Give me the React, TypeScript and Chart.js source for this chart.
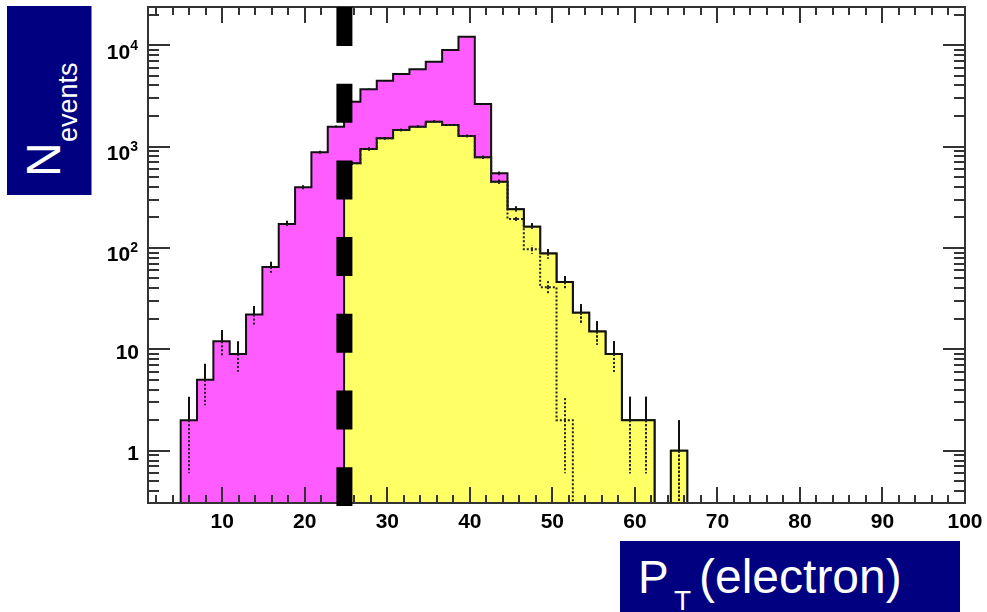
import React, { useEffect, useRef } from 'react';
import { Chart, registerables } from 'chart.js';

Chart.register(...registerables);

// ---- Data ----
const binEdges = [1, 2.98, 4.96, 6.94, 8.92, 10.9, 12.88, 14.86, 16.84, 18.82, 20.8, 22.78, 24.76, 26.74, 28.72, 30.7, 32.68, 34.66, 36.64, 38.62, 40.6, 42.58, 44.56, 46.54, 48.52, 50.5, 52.48, 54.46, 56.44, 58.42, 60.4, 62.38, 64.36, 66.34, 68.32];

// all electrons (magenta), bins 0..33
const totalCounts = [0, 0, 2, 5, 12, 9, 22, 65, 172, 396, 877, 1570, 2770, 3670, 4450, 5190, 5770, 6860, 8950, 12100, 2630, 544, 240, 162, 88, 46, 23, 15, 9, 2, 2, 0, 1, 0];
const totalErrors = [0, 0, 1.4, 2.2, 3.5, 3, 4.7, 8.1, 13, 20, 30, 40, 53, 61, 67, 72, 76, 83, 95, 110, 51, 23, 15.5, 12.7, 9.4, 6.8, 4.8, 3.9, 3, 1.4, 1.4, 0, 1, 0];

// after the PT cut (yellow), bins 12..33
const CUT_FIRST_BIN = 12;
const yellowCounts = [683, 945, 1205, 1455, 1570, 1760, 1630, 1270, 782, 450, 240, 162, 88, 46, 23, 15, 9, 2, 2, 0, 1, 0];
const yellowErrors = [26, 31, 35, 38, 40, 42, 40, 36, 28, 21, 15.5, 12.7, 9.4, 6.8, 4.8, 3.9, 3, 1.4, 1.4, 0, 1, 0];

// dotted histogram, bins 12..33
const dottedCounts = [683, 945, 1205, 1455, 1570, 1760, 1630, 1270, 782, 450, 193, 97, 41, 2, 0, 0, 0, 0, 0, 0, 0, 0];
const dottedErrors = [26, 31, 35, 38, 40, 42, 40, 36, 28, 21, 14, 9.8, 6.4, 1.4, 0, 0, 0, 0, 0, 0, 0, 0];

const CUT_VALUE = 24.8;

const X_MIN = 1;
const X_MAX = 100;
const Y_MIN = 0.305;
const Y_MAX = 23770;

const xMajorTicks = [10, 20, 30, 40, 50, 60, 70, 80, 90, 100];
const xTickLabels = ['10', '20', '30', '40', '50', '60', '70', '80', '90', '100'];
const xMinorTicks = [2, 4, 6, 8, 12, 14, 16, 18, 22, 24, 26, 28, 32, 34, 36, 38, 42, 44, 46, 48, 52, 54, 56, 58, 62, 64, 66, 68, 72, 74, 76, 78, 82, 84, 86, 88, 92, 94, 96, 98];

const yMajorTicks = [1, 10, 100, 1000, 10000];
const yLabelBase = ['1', '10', '10', '10', '10'];
const yLabelExp = ['', '', '2', '3', '4'];
const yMinorTicks = [0.4, 0.5, 0.6, 0.7, 0.8, 0.9, 2, 3, 4, 5, 6, 7, 8, 9, 20, 30, 40, 50, 60, 70, 80, 90, 200, 300, 400, 500, 600, 700, 800, 900, 2000, 3000, 4000, 5000, 6000, 7000, 8000, 9000, 20000];

const FONT = "'Liberation Sans', Arial, Helvetica, sans-serif";

function shown(v: number) {
  return v > 0 ? v : Y_MIN;
}

function stepPoints(counts: number[], firstBin: number, startFromBottom: boolean) {
  const pts: { x: number; y: number }[] = [];
  if (startFromBottom) pts.push({ x: binEdges[firstBin], y: Y_MIN });
  counts.forEach((c, k) => pts.push({ x: binEdges[firstBin + k], y: shown(c) }));
  pts.push({ x: binEdges[firstBin + counts.length], y: shown(counts[counts.length - 1]) });
  return pts;
}

const decorPlugin = {
  id: 'histDecor',
  afterDatasetsDraw(chart: any) {
    const { ctx, chartArea: a, scales } = chart;
    const xs = scales.x;
    const ys = scales.y;
    const yp = (v: number) => ys.getPixelForValue(Math.max(v, Y_MIN));

    // error bars
    ctx.save();
    ctx.beginPath();
    ctx.rect(a.left, a.top, a.right - a.left, a.bottom - a.top);
    ctx.clip();
    ctx.lineWidth = 2;
    const drawErr = (counts: number[], errs: number[], firstBin: number, solidUp: boolean) => {
      counts.forEach((v, k) => {
        const e = errs[k];
        if (!(v > 0) || !(e > 0)) return;
        const i = firstBin + k;
        const cx = Math.round(xs.getPixelForValue((binEdges[i] + binEdges[i + 1]) / 2));
        ctx.strokeStyle = solidUp ? '#111' : '#222';
        ctx.setLineDash(solidUp ? [] : [2, 2]);
        ctx.beginPath();
        ctx.moveTo(cx, yp(v));
        ctx.lineTo(cx, yp(v + e));
        ctx.stroke();
        ctx.strokeStyle = '#222';
        ctx.setLineDash([2, 2]);
        ctx.beginPath();
        ctx.moveTo(cx, yp(v));
        ctx.lineTo(cx, v - e > 0 ? yp(v - e) : a.bottom);
        ctx.stroke();
      });
    };
    drawErr(dottedCounts, dottedErrors, CUT_FIRST_BIN, false);
    drawErr(totalCounts, totalErrors, 0, true);
    drawErr(yellowCounts, yellowErrors, CUT_FIRST_BIN, true);
    ctx.restore();

    // frame and ticks
    ctx.save();
    ctx.strokeStyle = '#333';
    ctx.lineWidth = 2;
    ctx.setLineDash([]);
    ctx.strokeRect(a.left, a.top, a.right - a.left, a.bottom - a.top);
    ctx.beginPath();
    xMajorTicks.forEach((v) => {
      const px = Math.round(xs.getPixelForValue(v));
      ctx.moveTo(px, a.bottom);
      ctx.lineTo(px, a.bottom - 16);
      ctx.moveTo(px, a.top);
      ctx.lineTo(px, a.top + 16);
    });
    xMinorTicks.forEach((v) => {
      const px = Math.round(xs.getPixelForValue(v));
      ctx.moveTo(px, a.bottom);
      ctx.lineTo(px, a.bottom - 8);
      ctx.moveTo(px, a.top);
      ctx.lineTo(px, a.top + 8);
    });
    yMajorTicks.forEach((v) => {
      const py = Math.round(ys.getPixelForValue(v));
      ctx.moveTo(a.left, py);
      ctx.lineTo(a.left + 22, py);
      ctx.moveTo(a.right, py);
      ctx.lineTo(a.right - 22, py);
    });
    yMinorTicks.forEach((v) => {
      const py = Math.round(ys.getPixelForValue(v));
      ctx.moveTo(a.left, py);
      ctx.lineTo(a.left + 11, py);
      ctx.moveTo(a.right, py);
      ctx.lineTo(a.right - 11, py);
    });
    ctx.stroke();

    // tick labels
    ctx.fillStyle = '#000';
    ctx.font = `bold 21px ${FONT}`;
    ctx.textAlign = 'center';
    ctx.textBaseline = 'alphabetic';
    xMajorTicks.forEach((v, k) => {
      ctx.fillText(xTickLabels[k], xs.getPixelForValue(v), a.bottom + 25);
    });
    yMajorTicks.forEach((v, k) => {
      const py = ys.getPixelForValue(v);
      const exp = yLabelExp[k];
      if (!exp) {
        ctx.font = `bold 21px ${FONT}`;
        ctx.textAlign = 'right';
        ctx.fillText(yLabelBase[k], a.left - 9, py + 9.5);
      } else {
        ctx.font = `bold 14px ${FONT}`;
        ctx.textAlign = 'right';
        const ew = ctx.measureText(exp).width;
        const right = a.left - 10;
        ctx.fillText(exp, right, py + 4.5);
        ctx.font = `bold 21px ${FONT}`;
        ctx.fillText(yLabelBase[k], right - ew, py + 13.5);
      }
    });
    ctx.restore();

    // cut line
    ctx.save();
    ctx.strokeStyle = '#000';
    ctx.lineWidth = 16;
    ctx.lineCap = 'butt';
    ctx.setLineDash([39, 37.7]);
    const cx = xs.getPixelForValue(CUT_VALUE);
    ctx.beginPath();
    ctx.moveTo(cx, a.top);
    ctx.lineTo(cx, a.bottom + 3);
    ctx.stroke();
    ctx.restore();
  },
};

export default function App() {
  const ref = useRef<HTMLCanvasElement | null>(null);

  useEffect(() => {
    if (!ref.current) return;
    const chart = new Chart(ref.current, {
      type: 'line',
      data: {
        datasets: [
          {
            label: 'dotted',
            data: stepPoints(dottedCounts, CUT_FIRST_BIN, false),
            stepped: 'before',
            borderColor: '#222',
            borderWidth: 2,
            borderDash: [2, 2],
            fill: false,
            pointRadius: 0,
            order: 1,
          },
          {
            label: 'after cut',
            data: stepPoints(yellowCounts, CUT_FIRST_BIN, true),
            stepped: 'before',
            borderColor: '#111',
            borderWidth: 2,
            backgroundColor: '#ffff66',
            fill: 'start',
            pointRadius: 0,
            order: 2,
          },
          {
            label: 'all',
            data: stepPoints(totalCounts, 0, false),
            stepped: 'before',
            borderColor: '#111',
            borderWidth: 2,
            backgroundColor: '#ff5cff',
            fill: 'start',
            pointRadius: 0,
            order: 3,
          },
        ],
      } as any,
      options: {
        animation: false,
        responsive: false,
        maintainAspectRatio: false,
        layout: { padding: { left: 148, top: 7, right: 22, bottom: 109 } },
        plugins: { legend: { display: false }, tooltip: { enabled: false } },
        scales: {
          x: { type: 'linear', min: X_MIN, max: X_MAX, display: false, bounds: 'data' },
          y: { type: 'logarithmic', min: Y_MIN, max: Y_MAX, display: false, bounds: 'data' },
        },
        elements: { point: { radius: 0 }, line: { tension: 0 } },
      } as any,
      plugins: [decorPlugin],
    });
    return () => chart.destroy();
  }, []);

  return (
    <div style={{ position: 'absolute', left: 0, top: 0, width: 987, height: 612, background: '#fff', overflow: 'hidden' }}>
      <canvas ref={ref} width={987} height={612} style={{ position: 'absolute', left: 0, top: 0, width: 987, height: 612 }} />
      <svg width={987} height={612} style={{ position: 'absolute', left: 0, top: 0, pointerEvents: 'none' }} fontFamily={FONT}>
        <rect x={7} y={6} width={84.5} height={189} fill="#000080" />
        <g transform="translate(60,177) rotate(-90)">
          <text x={0} y={0} fill="#fff" fontSize={48}>N</text>
          <text x={35} y={17} fill="#fff" fontSize={27}>events</text>
        </g>
        <rect x={620} y={541} width={340} height={71} fill="#000080" />
        <text x={638} y={593} fill="#fff" fontSize={46}>P</text>
        <text x={674} y={610} fill="#fff" fontSize={28}>T</text>
        <text x={699} y={593} fill="#fff" fontSize={48}>(electron)</text>
      </svg>
    </div>
  );
}
